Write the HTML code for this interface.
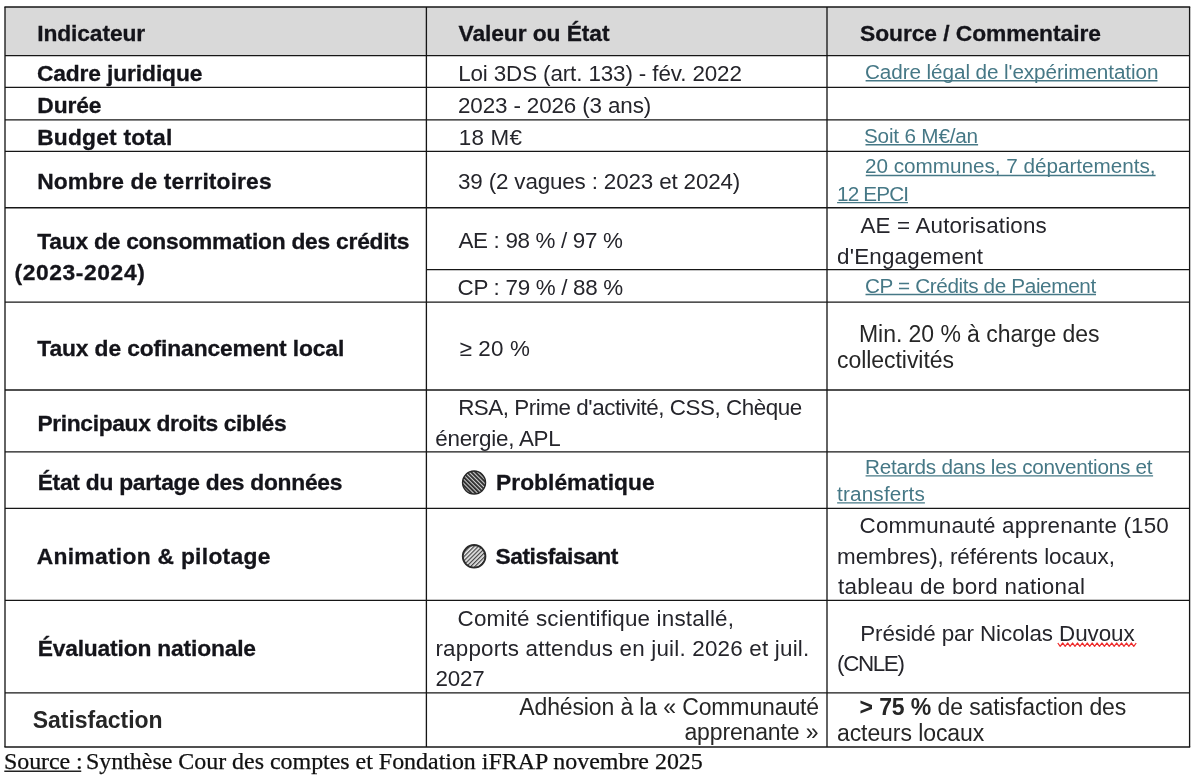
<!DOCTYPE html>
<html lang="fr">
<head>
<meta charset="utf-8">
<title>Tableau de synthèse</title>
<style>
html,body{margin:0;padding:0;background:#fff;}
body{width:1200px;height:776px;position:relative;overflow:hidden;font-family:"Liberation Sans",sans-serif;}
#w{position:absolute;left:0;top:0;width:1200px;height:776px;will-change:transform;}
.t{position:absolute;white-space:pre;line-height:1;margin:0;padding:0;}
.sb{font-family:"Liberation Sans",sans-serif;font-weight:700;font-size:22.8px;color:#14141a;}
.sr{font-family:"Liberation Sans",sans-serif;font-weight:400;font-size:22.4px;color:#25252b;}
.ab{font-family:"Liberation Sans",sans-serif;font-weight:700;font-size:23.0px;color:#262626;}
.ar{font-family:"Liberation Sans",sans-serif;font-weight:400;font-size:23.0px;color:#262626;}
.lk{font-family:"Liberation Sans",sans-serif;font-weight:400;font-size:20.0px;color:#467886;}
.se{font-family:"Liberation Serif",serif;font-weight:400;font-size:22.6px;color:#111;}
.lk{transform:scaleX(1.035);transform-origin:0 0;}
.se{transform:scaleX(1.06);transform-origin:0 0;}
.t b{font-weight:700;}
.sb{-webkit-text-stroke:0.3px #14141a;}
.se{-webkit-text-stroke:0.25px #111;}
</style>
</head>
<body>
<svg width="1200" height="776" viewBox="0 0 1200 776" style="position:absolute;left:0;top:0">
<defs><pattern id="h1" width="2.95" height="2.95" patternUnits="userSpaceOnUse" patternTransform="rotate(45 474 482)"><rect width="2.95" height="2.95" fill="#2a2a2a"/><rect y="0" width="2.95" height="1.1" fill="#d0d0d0"/></pattern><pattern id="h2" width="2.95" height="2.95" patternUnits="userSpaceOnUse" patternTransform="rotate(-45 474 556)"><rect width="2.95" height="2.95" fill="#ececec"/><rect y="0" width="2.95" height="1.25" fill="#444"/></pattern></defs>
<rect x="5" y="7" width="1184.6" height="48.7" fill="#d9d9d9"/>
<line x1="4.40" y1="7.00" x2="1190.20" y2="7.00" stroke="#161616" stroke-width="1.33"/>
<line x1="5.00" y1="55.70" x2="1189.60" y2="55.70" stroke="#161616" stroke-width="1.33"/>
<line x1="5.00" y1="87.30" x2="1189.60" y2="87.30" stroke="#161616" stroke-width="1.33"/>
<line x1="5.00" y1="119.95" x2="1189.60" y2="119.95" stroke="#161616" stroke-width="1.33"/>
<line x1="5.00" y1="151.30" x2="1189.60" y2="151.30" stroke="#161616" stroke-width="1.33"/>
<line x1="5.00" y1="207.75" x2="1189.60" y2="207.75" stroke="#161616" stroke-width="1.33"/>
<line x1="426.40" y1="269.60" x2="1189.60" y2="269.60" stroke="#161616" stroke-width="1.33"/>
<line x1="5.00" y1="302.15" x2="1189.60" y2="302.15" stroke="#161616" stroke-width="1.33"/>
<line x1="5.00" y1="390.00" x2="1189.60" y2="390.00" stroke="#161616" stroke-width="1.33"/>
<line x1="5.00" y1="451.95" x2="1189.60" y2="451.95" stroke="#161616" stroke-width="1.33"/>
<line x1="5.00" y1="508.40" x2="1189.60" y2="508.40" stroke="#161616" stroke-width="1.33"/>
<line x1="5.00" y1="600.40" x2="1189.60" y2="600.40" stroke="#161616" stroke-width="1.33"/>
<line x1="5.00" y1="692.80" x2="1189.60" y2="692.80" stroke="#161616" stroke-width="1.33"/>
<line x1="4.40" y1="747.00" x2="1190.20" y2="747.00" stroke="#161616" stroke-width="1.33"/>
<line x1="5.00" y1="7.00" x2="5.00" y2="747.00" stroke="#161616" stroke-width="1.33"/>
<line x1="426.40" y1="7.00" x2="426.40" y2="747.00" stroke="#161616" stroke-width="1.33"/>
<line x1="827.00" y1="7.00" x2="827.00" y2="747.00" stroke="#161616" stroke-width="1.33"/>
<line x1="1189.60" y1="7.00" x2="1189.60" y2="747.00" stroke="#161616" stroke-width="1.33"/>
<circle cx="474.05" cy="482.55" r="11.5" fill="url(#h1)" stroke="#262626" stroke-width="1.4"/>
<circle cx="474.1" cy="556.35" r="11.35" fill="url(#h2)" stroke="#2a2a2a" stroke-width="1.8"/>
<line x1="865.60" y1="80.80" x2="1157.50" y2="80.80" stroke="#467886" stroke-width="1.4"/>
<line x1="865.50" y1="144.75" x2="978.10" y2="144.75" stroke="#467886" stroke-width="1.4"/>
<line x1="865.75" y1="175.50" x2="1155.60" y2="175.50" stroke="#467886" stroke-width="1.4"/>
<line x1="837.10" y1="202.60" x2="908.00" y2="202.60" stroke="#467886" stroke-width="1.4"/>
<line x1="865.50" y1="294.50" x2="1096.00" y2="294.50" stroke="#467886" stroke-width="1.4"/>
<line x1="865.60" y1="475.90" x2="1153.10" y2="475.90" stroke="#467886" stroke-width="1.4"/>
<line x1="837.15" y1="502.90" x2="924.90" y2="502.90" stroke="#467886" stroke-width="1.4"/>
<line x1="4.30" y1="771.25" x2="81.25" y2="771.25" stroke="#222" stroke-width="1.3"/>
<polyline points="1057.8,643.0 1060.2,646.3 1062.7,643.0 1065.2,646.3 1067.6,643.0 1070.1,646.3 1072.5,643.0 1075.0,646.3 1077.4,643.0 1079.9,646.3 1082.3,643.0 1084.8,646.3 1087.2,643.0 1089.7,646.3 1092.1,643.0 1094.6,646.3 1097.0,643.0 1099.5,646.3 1101.9,643.0 1104.4,646.3 1106.8,643.0 1109.3,646.3 1111.7,643.0 1114.2,646.3 1116.6,643.0 1119.1,646.3 1121.5,643.0 1124.0,646.3 1126.4,643.0 1128.9,646.3 1131.3,643.0 1133.8,646.3 1136.2,643.0" fill="none" stroke="#ee2a2a" stroke-width="1.25" stroke-linejoin="round"/>
</svg>
<div id="w">
<div class="t sb" style="left:37.16px;top:22.00px;letter-spacing:-0.097px">Indicateur</div>
<div class="t sb" style="left:36.90px;top:61.60px;letter-spacing:-0.123px">Cadre juridique</div>
<div class="t sb" style="left:37.37px;top:93.70px;letter-spacing:-0.145px">Durée</div>
<div class="t sb" style="left:37.17px;top:125.50px;letter-spacing:0.197px">Budget total</div>
<div class="t sb" style="left:37.17px;top:170.25px;letter-spacing:0.131px">Nombre de territoires</div>
<div class="t sb" style="left:37.36px;top:230.40px;letter-spacing:-0.246px">Taux de consommation des crédits</div>
<div class="t sb" style="left:14.48px;top:260.60px;letter-spacing:0.610px">(2023-2024)</div>
<div class="t sb" style="left:37.36px;top:336.60px;letter-spacing:-0.118px">Taux de cofinancement local</div>
<div class="t sb" style="left:37.42px;top:411.60px;letter-spacing:-0.346px">Principaux droits ciblés</div>
<div class="t sb" style="left:37.67px;top:471.25px;letter-spacing:-0.263px">État du partage des données</div>
<div class="t sb" style="left:36.74px;top:544.90px;letter-spacing:0.299px">Animation &amp; pilotage</div>
<div class="t sb" style="left:37.67px;top:637.25px;letter-spacing:-0.175px">Évaluation nationale</div>
<div class="t ab" style="left:32.83px;top:708.90px;letter-spacing:-0.055px">Satisfaction</div>
<div class="t sb" style="left:458.54px;top:21.60px;letter-spacing:-0.077px">Valeur ou État</div>
<div class="t sr" style="left:458.16px;top:63.25px;letter-spacing:-0.117px">Loi 3DS (art. 133) - fév. 2022</div>
<div class="t sr" style="left:457.98px;top:94.50px;letter-spacing:-0.124px">2023 - 2026 (3 ans)</div>
<div class="t sr" style="left:458.71px;top:127.00px;letter-spacing:0.237px">18 M€</div>
<div class="t sr" style="left:458.01px;top:171.40px;letter-spacing:-0.150px">39 (2 vagues : 2023 et 2024)</div>
<div class="t sr" style="left:458.50px;top:230.10px;letter-spacing:-0.328px">AE : 98 % / 97 %</div>
<div class="t sr" style="left:457.58px;top:276.60px;letter-spacing:-0.293px">CP : 79 % / 88 %</div>
<div class="t sr" style="left:459.40px;top:337.50px;letter-spacing:0.178px">≥ 20 %</div>
<div class="t sr" style="left:458.16px;top:397.10px;letter-spacing:-0.455px">RSA, Prime d'activité, CSS, Chèque</div>
<div class="t sr" style="left:435.24px;top:427.60px;letter-spacing:-0.245px">énergie, APL</div>
<div class="t sb" style="left:496.07px;top:471.00px;letter-spacing:0.014px">Problématique</div>
<div class="t sb" style="left:495.52px;top:544.60px;letter-spacing:-0.464px">Satisfaisant</div>
<div class="t sr" style="left:457.58px;top:607.60px;letter-spacing:0.182px">Comité scientifique installé,</div>
<div class="t sr" style="left:435.41px;top:638.40px;letter-spacing:0.203px">rapports attendus en juil. 2026 et juil.</div>
<div class="t sr" style="left:435.48px;top:668.25px;letter-spacing:-0.190px">2027</div>
<div class="t ar" style="left:519.26px;top:695.60px;letter-spacing:-0.126px">Adhésion à la « Communauté</div>
<div class="t ar" style="left:684.45px;top:721.00px;letter-spacing:-0.140px">apprenante »</div>
<div class="t sb" style="left:860.07px;top:21.60px;letter-spacing:-0.060px">Source / Commentaire</div>
<div class="t lk" style="left:864.71px;top:61.80px;letter-spacing:-0.086px">Cadre légal de l'expérimentation</div>
<div class="t lk" style="left:864.44px;top:125.75px;letter-spacing:-0.186px">Soit 6 M€/an</div>
<div class="t lk" style="left:864.88px;top:156.35px;letter-spacing:-0.019px">20 communes, 7 départements,</div>
<div class="t lk" style="left:837.05px;top:183.65px;letter-spacing:-0.813px">12 EPCI</div>
<div class="t sr" style="left:860.50px;top:215.10px;letter-spacing:0.156px">AE = Autorisations</div>
<div class="t sr" style="left:837.00px;top:245.50px;letter-spacing:0.207px">d'Engagement</div>
<div class="t lk" style="left:864.61px;top:275.60px;letter-spacing:-0.349px">CP = Crédits de Paiement</div>
<div class="t ar" style="left:859.00px;top:322.90px;letter-spacing:-0.053px">Min. 20 % à charge des</div>
<div class="t ar" style="left:837.00px;top:348.50px;letter-spacing:-0.051px">collectivités</div>
<div class="t lk" style="left:864.92px;top:456.85px;letter-spacing:-0.224px">Retards dans les conventions et</div>
<div class="t lk" style="left:837.12px;top:483.90px;letter-spacing:0.167px">transferts</div>
<div class="t sr" style="left:859.58px;top:515.40px;letter-spacing:0.167px">Communauté apprenante (150</div>
<div class="t sr" style="left:837.09px;top:545.90px;letter-spacing:-0.035px">membres), référents locaux,</div>
<div class="t sr" style="left:837.91px;top:576.00px;letter-spacing:0.298px">tableau de bord national</div>
<div class="t sr" style="left:860.16px;top:622.90px;letter-spacing:-0.071px">Présidé par Nicolas Duvoux</div>
<div class="t sr" style="left:837.10px;top:653.00px;letter-spacing:-1.379px">(CNLE)</div>
<div class="t ar" style="left:859.50px;top:696.25px;letter-spacing:-0.095px"><b>&gt; 75 %</b> de satisfaction des</div>
<div class="t ar" style="left:836.95px;top:721.50px;letter-spacing:-0.072px">acteurs locaux</div>
<div class="t se" style="left:3.74px;top:750.60px;letter-spacing:-0.058px">Source :</div>
<div class="t se" style="left:86.44px;top:750.60px;letter-spacing:-0.016px">Synthèse Cour des comptes et Fondation iFRAP novembre 2025</div>
</div>
</body>
</html>
